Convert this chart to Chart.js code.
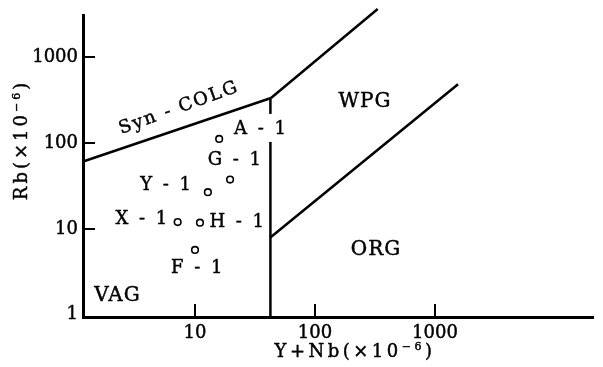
<!DOCTYPE html>
<html>
<head>
<meta charset="utf-8">
<script src="https://cdn.jsdelivr.net/npm/chart.js@4.4.1/dist/chart.umd.min.js"></script>
<style>
html,body{margin:0;padding:0;background:#fff;}
#wrap{width:603px;height:367px;position:relative;}
</style>
</head>
<body>
<div id="wrap"><canvas id="c" width="603" height="367"></canvas></div>
<script>
// ---- data (Y+Nb vs Rb, ×10^-6) ----
const sampleNames = ['A - 1', 'G - 1', 'Y - 1', 'X - 1', 'H - 1', 'F - 1'];
const sampleYNb   = [15.9, 19.6, 12.8, 7.17, 11.0, 10.0];
const sampleRb    = [112, 37.6, 26.8, 12.0, 11.8, 5.67];

// discrimination boundaries
const synColgYNb  = [1.17, 43];
const synColgRb   = [61, 336];
const wpgUpperYNb = [43, 333];
const wpgUpperRb  = [336, 3680];
const vagLimitYNb = [42.5, 42.5];
const vagLimitRb  = [0.936, 336];
const orgWpgYNb   = [42.2, 1555];
const orgWpgRb    = [7.87, 487];

// field names and their anchor in data units
const fieldNames = ['Syn - COLG', 'WPG', 'ORG', 'VAG'];
const fieldYNb   = [7.36, 261, 322, 2.26];
const fieldRb    = [257, 306, 5.71, 1.66];

// ticks
const xTicks = [10, 100, 1000];
const yTicks = [1, 10, 100, 1000];
// axis titles: [text, superscript, closing]
const xTitle = ['Y+Nb(×10', '−6', ')'];
const yTitle = ['Rb(×10', '−6', ')'];

// ---- styling / placement (not data) ----
const FONT = "'DejaVu Serif', 'Liberation Serif', serif";
const STROKE = 0.45;
const labelOffsets = [[41,-10,true],[4.5,-19,false],[-42,-7,false],[-36,-3,false],[37,0,false],[2,18,false]];
const fieldRot = [-20, 0, 0, 0];

const pts = (xs, ys) => xs.map((v, i) => ({x: v, y: ys[i]}));
const lineDs = (xs, ys) => ({
  type: 'line', data: pts(xs, ys), borderColor: '#000', borderWidth: 2.5,
  pointRadius: 0, fill: false, tension: 0, clip: false, order: 2
});

function txt(ctx, s, x, y) {
  ctx.fillText(s, x, y);
  ctx.lineWidth = STROKE;
  ctx.strokeText(s, x, y);
}

function drawTitle(ctx, parts, cx, cy, size, spacing) {
  const main = size + 'px ' + FONT;
  const sup = Math.round(size * 0.62) + 'px ' + FONT;
  ctx.letterSpacing = spacing + 'px';
  ctx.font = main; const w0 = ctx.measureText(parts[0]).width;
  ctx.font = sup;  const w1 = ctx.measureText(parts[1]).width;
  ctx.font = main; const w2 = ctx.measureText(parts[2]).width;
  let x0 = cx - (w0 + w1 + w2) / 2;
  ctx.textAlign = 'left';
  ctx.textBaseline = 'alphabetic';
  const base = cy + size * 0.36;
  ctx.font = main; txt(ctx, parts[0], x0, base); x0 += w0;
  ctx.font = sup;  txt(ctx, parts[1], x0, base - size * 0.42); x0 += w1;
  ctx.font = main; txt(ctx, parts[2], x0, base);
}

const annot = {
  id: 'annot',
  afterDatasetsDraw(chart) {
    const {ctx, scales: {x, y}} = chart;
    ctx.save();
    ctx.strokeStyle = '#000';
    ctx.lineWidth = 2;
    yTicks.forEach(v => {
      if (v <= y.min * 1.2) return;
      const py = Math.round(y.getPixelForValue(v));
      ctx.beginPath(); ctx.moveTo(x.left, py); ctx.lineTo(x.left + 12, py); ctx.stroke();
    });
    xTicks.forEach(v => {
      const px = Math.round(x.getPixelForValue(v));
      ctx.beginPath(); ctx.moveTo(px, y.bottom); ctx.lineTo(px, y.bottom - 13); ctx.stroke();
    });
    // sample labels
    ctx.font = '18px ' + FONT;
    ctx.textAlign = 'center';
    ctx.textBaseline = 'middle';
    ctx.letterSpacing = '2.5px';
    sampleNames.forEach((n, i) => {
      const px = x.getPixelForValue(sampleYNb[i]) + labelOffsets[i][0] + 1;
      const py = y.getPixelForValue(sampleRb[i]) + labelOffsets[i][1];
      const w = ctx.measureText(n).width;
      if (labelOffsets[i][2]) {
        ctx.fillStyle = '#fff';
        ctx.fillRect(px - w / 2 - 3, py - 15, w + 4, 28);
      }
      ctx.fillStyle = '#000';
      txt(ctx, n, px, py);
    });
    // field labels
    fieldNames.forEach((n, i) => {
      const px = x.getPixelForValue(fieldYNb[i]);
      const py = y.getPixelForValue(fieldRb[i]);
      ctx.save();
      ctx.translate(px, py);
      ctx.rotate(fieldRot[i] * Math.PI / 180);
      if (i === 0) { ctx.font = '18px ' + FONT; ctx.letterSpacing = '2px'; }
      else { ctx.font = '20px ' + FONT; ctx.letterSpacing = '1px'; }
      ctx.fillStyle = '#000';
      txt(ctx, n, 0, 0);
      ctx.restore();
    });
    // axis titles
    ctx.fillStyle = '#000';
    drawTitle(ctx, xTitle, 355, 351, 18, 3.5);
    ctx.save();
    ctx.translate(21, 140);
    ctx.rotate(-Math.PI / 2);
    drawTitle(ctx, yTitle, 0, 0, 18, 3);
    ctx.restore();
    ctx.restore();
  }
};

new Chart(document.getElementById('c'), {
  type: 'scatter',
  data: {
    datasets: [
      lineDs(synColgYNb, synColgRb),
      lineDs(wpgUpperYNb, wpgUpperRb),
      lineDs(vagLimitYNb, vagLimitRb),
      lineDs(orgWpgYNb, orgWpgRb),
      {
        label: 'samples', data: pts(sampleYNb, sampleRb),
        pointStyle: 'circle', pointRadius: 3.3, borderWidth: 1.6,
        borderColor: '#000', backgroundColor: '#fff', order: 1
      }
    ]
  },
  options: {
    responsive: false,
    devicePixelRatio: 1,
    animation: false,
    layout: {padding: {top: 13, right: 10, left: 0, bottom: 0}},
    plugins: {legend: {display: false}, tooltip: {enabled: false}},
    scales: {
      x: {
        type: 'logarithmic', min: 1.166, max: 20730,
        grid: {display: false, drawTicks: false},
        border: {display: true, color: '#000', width: 3},
        afterBuildTicks: s => { s.ticks = xTicks.map(v => ({value: v})); },
        afterFit: s => { s.height = 50; },
        ticks: {color: '#000', padding: 6, font: {family: FONT, size: 18}, maxRotation: 0, autoSkip: false,
                textStrokeColor: '#000', textStrokeWidth: STROKE, callback: v => String(v)}
      },
      y: {
        type: 'logarithmic', min: 0.936, max: 3062,
        grid: {display: false, drawTicks: false},
        border: {display: true, color: '#000', width: 3},
        afterBuildTicks: s => { s.ticks = yTicks.map(v => ({value: v})); },
        afterFit: s => { s.width = 83; },
        ticks: {color: '#000', padding: 5, font: {family: FONT, size: 18}, autoSkip: false,
                textStrokeColor: '#000', textStrokeWidth: STROKE, callback: v => String(v)}
      }
    }
  },
  plugins: [annot]
});
</script>
</body>
</html>
